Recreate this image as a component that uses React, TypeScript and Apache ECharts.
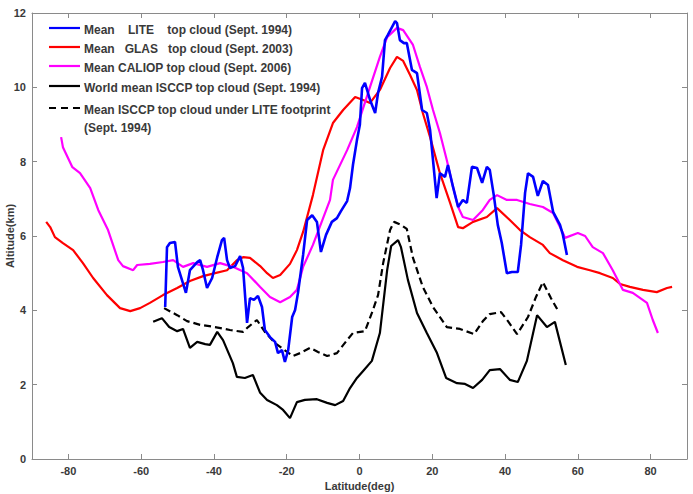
import React, { useEffect, useRef } from "react";
import * as echarts from "echarts";

// Mean cloud-top altitude (km) against latitude (deg), as [lat, alt] pairs.
const liteTop: [number, number][] = [
  [-53.4, 4.09], [-52.9, 5.7], [-52.1, 5.81], [-50.7, 5.84], [-49.9, 5.17], [-48.8, 4.82],
  [-47.7, 4.47], [-46.6, 5.08], [-44.6, 5.3], [-43.8, 5.35], [-43.0, 5.08], [-41.9, 4.6],
  [-40.5, 4.87], [-39.1, 5.43], [-37.8, 5.89], [-37.2, 5.95], [-36.4, 5.35], [-35.6, 5.14],
  [-34.2, 5.19], [-32.8, 5.46], [-32.0, 5.14], [-30.9, 3.66], [-30.1, 4.33], [-29.0, 4.28],
  [-27.9, 4.39], [-26.8, 4.09], [-26.0, 3.47], [-24.6, 3.28], [-23.2, 3.15], [-22.4, 2.85],
  [-21.3, 2.93], [-20.5, 2.61], [-19.6, 2.93], [-18.5, 3.82], [-17.7, 4.01], [-16.9, 4.47],
  [-15.5, 5.49], [-14.4, 6.43], [-13.0, 6.56], [-11.7, 6.38], [-10.6, 5.57], [-9.2, 6.03],
  [-7.6, 6.38], [-6.2, 6.48], [-5.1, 6.67], [-3.4, 6.94], [-2.6, 7.29], [-1.8, 7.91],
  [-0.7, 8.58], [0.1, 8.99], [0.7, 9.98], [1.5, 10.12], [2.9, 9.66], [4.3, 9.31],
  [5.1, 9.85], [6.2, 10.28], [7.0, 11.27], [7.8, 11.41], [9.8, 11.78], [10.3, 11.73],
  [11.1, 11.27], [12.2, 11.19], [13.0, 11.19], [14.4, 10.47], [15.8, 10.38], [17.2, 9.39],
  [18.5, 9.31], [19.4, 8.85], [20.2, 8.04], [21.2, 7.02], [22.1, 7.69], [23.5, 7.59],
  [24.3, 7.91], [25.7, 7.32], [27.1, 6.78], [28.4, 6.97], [29.5, 6.89], [30.9, 7.86],
  [32.3, 7.83], [33.7, 7.43], [35.0, 7.86], [35.8, 7.78], [36.9, 7.1], [38.0, 6.3],
  [39.1, 5.81], [40.5, 5.0], [41.9, 5.03], [43.5, 5.03], [44.4, 5.76], [45.5, 7.16],
  [46.3, 7.69], [47.7, 7.59], [49.0, 7.08], [50.4, 7.48], [51.8, 7.37], [53.2, 6.65],
  [55.1, 6.3], [55.9, 6.03], [57.0, 5.49],
];

const glasTop: [number, number][] = [
  [-86.1, 6.38], [-85.0, 6.24], [-83.7, 5.97], [-81.5, 5.81], [-78.7, 5.62], [-76.0, 5.27],
  [-73.2, 4.87], [-69.4, 4.41], [-65.8, 4.06], [-63.0, 3.98], [-60.3, 4.06], [-57.6, 4.2],
  [-54.0, 4.41], [-50.1, 4.6], [-46.6, 4.79], [-43.0, 4.92], [-39.7, 5.0], [-36.4, 5.08],
  [-33.7, 5.35], [-32.0, 5.43], [-30.1, 5.41], [-27.3, 5.19], [-25.4, 5.0], [-23.8, 4.87],
  [-21.8, 4.95], [-19.1, 5.25], [-17.2, 5.62], [-15.5, 6.11], [-12.8, 7.1], [-10.0, 8.31],
  [-7.3, 9.04], [-4.5, 9.39], [-1.2, 9.74], [1.0, 9.66], [2.9, 9.58], [5.6, 9.93],
  [8.4, 10.52], [10.3, 10.82], [12.0, 10.71], [13.9, 10.33], [15.8, 9.93], [17.4, 9.31],
  [19.4, 8.66], [22.1, 7.69], [24.9, 6.89], [27.1, 6.24], [28.4, 6.21], [31.2, 6.38],
  [35.0, 6.51], [37.8, 6.75], [41.3, 6.43], [44.1, 6.16], [46.8, 5.97], [50.4, 5.76],
  [52.3, 5.54], [55.9, 5.35], [59.8, 5.17], [63.3, 5.08], [66.1, 5.0], [69.6, 4.87],
  [71.6, 4.71], [74.3, 4.63], [77.9, 4.55], [81.7, 4.49], [84.5, 4.6], [85.9, 4.63],
];

const caliopTop: [number, number][] = [
  [-82.0, 8.66], [-81.5, 8.39], [-78.9, 7.85], [-76.8, 7.69], [-74.0, 7.29], [-71.8, 6.7],
  [-69.1, 6.16], [-66.3, 5.35], [-65.0, 5.19], [-62.2, 5.08], [-61.1, 5.22], [-57.6, 5.25],
  [-54.0, 5.3], [-51.2, 5.35], [-48.5, 5.17], [-45.7, 5.27], [-41.9, 5.17], [-38.3, 5.27],
  [-34.8, 5.17], [-30.9, 5.0], [-27.3, 4.63], [-24.6, 4.36], [-21.8, 4.22], [-19.1, 4.36],
  [-17.2, 4.55], [-15.5, 5.17], [-12.8, 5.76], [-10.0, 6.48], [-8.1, 6.97], [-7.3, 7.51],
  [-3.4, 8.31], [-0.7, 8.93], [2.9, 10.01], [5.6, 10.82], [7.6, 11.35], [10.3, 11.6],
  [12.0, 11.54], [14.7, 11.14], [16.6, 10.55], [18.5, 10.01], [20.2, 9.39], [22.1, 8.77],
  [24.0, 8.04], [25.7, 7.32], [27.1, 6.78], [28.4, 6.51], [31.2, 6.43], [33.9, 6.7],
  [35.8, 6.97], [37.8, 7.1], [40.5, 6.97], [43.3, 6.97], [46.8, 6.86], [50.4, 6.78],
  [53.2, 6.62], [55.9, 6.08], [56.5, 5.95], [60.0, 6.08], [62.0, 6.0], [64.1, 5.7],
  [66.9, 5.54], [69.6, 5.08], [72.4, 4.55], [75.1, 4.47], [79.0, 4.2], [80.6, 3.74],
  [82.0, 3.39],
];

const isccpWorld: [number, number][] = [
  [-56.7, 3.69], [-54.3, 3.79], [-52.3, 3.55], [-50.1, 3.44], [-48.5, 3.5], [-46.6, 2.99],
  [-44.6, 3.15], [-42.4, 3.09], [-41.1, 3.07], [-39.1, 3.42], [-37.5, 3.2], [-34.8, 2.58],
  [-33.7, 2.21], [-31.5, 2.18], [-29.3, 2.26], [-27.3, 1.78], [-25.4, 1.59], [-22.7, 1.45],
  [-21.0, 1.32], [-19.1, 1.1], [-17.2, 1.53], [-15.0, 1.59], [-11.7, 1.61], [-8.9, 1.51],
  [-6.7, 1.45], [-4.5, 1.56], [-2.6, 1.91], [-0.7, 2.18], [1.0, 2.37], [3.4, 2.64],
  [5.6, 3.39], [7.6, 5.08], [8.7, 5.73], [10.6, 5.89], [11.4, 5.7], [13.3, 4.82],
  [15.8, 3.93], [18.5, 3.39], [21.3, 2.85], [23.8, 2.18], [26.8, 2.04], [29.0, 2.02],
  [31.2, 1.91], [33.7, 2.13], [35.8, 2.39], [38.6, 2.42], [41.3, 2.13], [43.5, 2.07],
  [46.0, 2.64], [48.8, 3.87], [51.5, 3.55], [53.7, 3.69], [56.7, 2.53],
];

const isccpUnderLite: [number, number][] = [
  [-53.7, 4.06], [-50.1, 3.87], [-47.4, 3.71], [-43.8, 3.61], [-39.7, 3.55], [-35.6, 3.47],
  [-32.0, 3.42], [-30.6, 3.55], [-28.2, 3.74], [-26.0, 3.42], [-23.2, 3.12], [-19.9, 2.88],
  [-18.3, 2.77], [-16.3, 2.85], [-13.6, 2.99], [-11.4, 2.88], [-8.9, 2.77], [-6.2, 2.85],
  [-3.4, 3.2], [-1.8, 3.39], [1.5, 3.44], [3.4, 3.93], [5.1, 4.41], [6.5, 5.27],
  [8.4, 6.16], [9.5, 6.38], [11.4, 6.3], [13.0, 6.19], [14.7, 5.41], [17.4, 4.63],
  [20.2, 4.09], [24.0, 3.55], [27.6, 3.5], [31.5, 3.36], [33.9, 3.71], [35.8, 3.9],
  [38.9, 3.95], [40.8, 3.71], [43.3, 3.36], [46.3, 3.82], [48.5, 4.36], [50.4, 4.76],
  [52.6, 4.33], [54.8, 3.95],
];

const latTicks = [-80, -60, -40, -20, 0, 20, 40, 60, 80];

const legendItems = [
  { text: "Mean    LITE    top cloud (Sept. 1994)", color: "#0000ff", dash: false },
  { text: "Mean   GLAS   top cloud (Sept. 2003)", color: "#ff0000", dash: false },
  { text: "Mean CALIOP top cloud (Sept. 2006)", color: "#ff00ff", dash: false },
  { text: "World mean ISCCP top cloud (Sept. 1994)", color: "#000000", dash: false },
  { text: "Mean ISCCP top cloud under LITE footprint\n(Sept. 1994)", color: "#000000", dash: true },
];

const FONT = "'Liberation Sans', Arial, sans-serif";
const AXIS_COLOR = "#8a8a8a";
const TEXT_COLOR = "#3a3a3a";

export default function App() {
  const ref = useRef<HTMLDivElement>(null);

  useEffect(() => {
    if (!ref.current) return;
    const chart = echarts.init(ref.current, undefined, { renderer: "svg" });

    // Legend: sample line + label, stacked in the upper-left corner of the plot
    const legendY = [28, 47, 66, 86, 108];
    const legendGraphics: any[] = [];
    legendItems.forEach((item, i) => {
      legendGraphics.push({
        type: "line",
        shape: { x1: 49, y1: legendY[i], x2: 80, y2: legendY[i] },
        style: {
          stroke: item.color,
          lineWidth: 2.2,
          lineDash: item.dash ? [7, 5] : null,
        },
        z: 10,
      });
      legendGraphics.push({
        type: "text",
        x: 84,
        y: legendY[i] - 7,
        style: {
          text: item.text,
          fill: TEXT_COLOR,
          font: `bold 12px ${FONT}`,
          lineHeight: 18,
        },
        z: 10,
      });
    });

    const axisCommon = {
      axisLine: { show: true, onZero: false, lineStyle: { color: AXIS_COLOR, width: 1 } },
      splitLine: { show: false },
    };

    const mkLine = (name: string, data: [number, number][], color: string, width: number, dashed = false) => ({
      name,
      type: "line",
      data,
      showSymbol: false,
      symbol: "none",
      lineStyle: { color, width, type: dashed ? [7, 4] : "solid" },
      xAxisIndex: 0,
      yAxisIndex: 0,
    });

    chart.setOption({
      animation: false,
      backgroundColor: "#ffffff",
      grid: { left: 32, right: 6, top: 13, bottom: 35, containLabel: false, outerBoundsMode: "none" },
      xAxis: [
        {
          type: "value",
          min: -90,
          max: 90,
          position: "bottom",
          ...axisCommon,
          name: "Latitude(deg)",
          nameLocation: "middle",
          nameGap: 21,
          nameMoveOverlap: false,
          nameTextStyle: { color: TEXT_COLOR, fontFamily: FONT, fontWeight: "bold", fontSize: 11 },
          axisTick: { show: true, inside: true, length: 5, customValues: latTicks, lineStyle: { color: AXIS_COLOR } },
          axisLabel: {
            customValues: latTicks,
            color: TEXT_COLOR,
            fontFamily: FONT,
            fontWeight: "bold",
            fontSize: 11,
            margin: 6,
          },
        },
        {
          type: "value",
          min: -90,
          max: 90,
          position: "top",
          ...axisCommon,
          axisTick: { show: true, inside: true, length: 5, customValues: latTicks, lineStyle: { color: AXIS_COLOR } },
          axisLabel: { show: false },
        },
      ],
      yAxis: [
        {
          type: "value",
          min: 0,
          max: 12,
          interval: 2,
          position: "left",
          ...axisCommon,
          name: "Altitude(km)",
          nameLocation: "middle",
          nameGap: 17,
          nameMoveOverlap: false,
          nameTextStyle: { color: TEXT_COLOR, fontFamily: FONT, fontWeight: "bold", fontSize: 11 },
          axisTick: { show: true, inside: true, length: 5, lineStyle: { color: AXIS_COLOR } },
          axisLabel: { color: TEXT_COLOR, fontFamily: FONT, fontWeight: "bold", fontSize: 11, margin: 6 },
        },
        {
          type: "value",
          min: 0,
          max: 12,
          interval: 2,
          position: "right",
          ...axisCommon,
          axisTick: { show: true, inside: true, length: 5, lineStyle: { color: AXIS_COLOR } },
          axisLabel: { show: false },
        },
      ],
      series: [
        mkLine("GLAS", glasTop, "#ff0000", 2.2),
        mkLine("CALIOP", caliopTop, "#ff00ff", 2.2),
        mkLine("ISCCP world", isccpWorld, "#000000", 2.2),
        mkLine("ISCCP LITE", isccpUnderLite, "#000000", 2.2, true),
        mkLine("LITE", liteTop, "#0000ff", 2.6),
      ],
      graphic: legendGraphics,
    });

    return () => chart.dispose();
  }, []);

  return (
    <div
      ref={ref}
      style={{ position: "fixed", left: 0, top: 0, width: 693, height: 494, background: "#fff" }}
    />
  );
}
